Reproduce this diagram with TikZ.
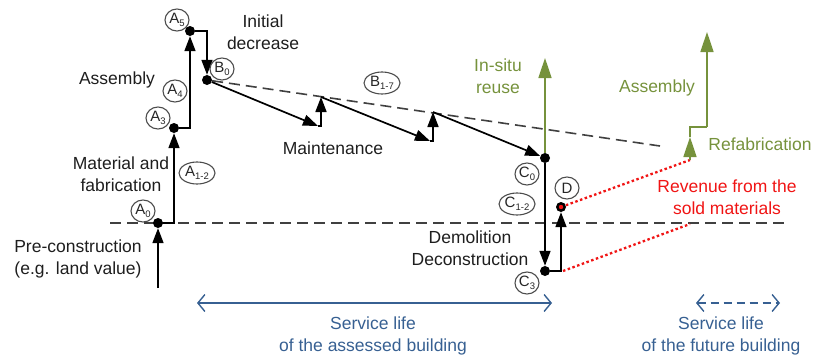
\documentclass[tikz,border=0pt]{standalone}
\usepackage{fontspec}
\setmainfont{Liberation Sans}
\usetikzlibrary{arrows.meta,shapes.geometric}
\definecolor{grn}{RGB}{118,146,60}
\definecolor{blu}{RGB}{55,96,146}
\definecolor{txt}{RGB}{30,30,30}
\definecolor{rd}{RGB}{240,20,20}
\newcommand{\lbtxt}[2]{#1\raisebox{-2.5pt}{\fontsize{9.5}{9.5}\selectfont #2}}
\begin{document}
\begin{tikzpicture}[x=1pt,y=-1pt,
  every node/.style={font=\fontsize{17.5}{21.5}\selectfont, text=txt},
  txtnode/.style={align=center, inner sep=0pt},
  dot/.style={circle, fill=black, inner sep=0pt, minimum size=10pt},
  lbl/.style={ellipse, draw=gray!60!black, line width=1.1pt, inner sep=0pt, minimum width=24pt, minimum height=22pt, font=\fontsize{15}{15}\selectfont, text=gray!30!black},
  lblw/.style={lbl, minimum width=36pt},
  ln/.style={line width=1.7pt, draw=black},
  arr/.style={ln, -{Triangle[length=15pt,width=11pt]}},
  garr/.style={line width=1.7pt, draw=grn, -{Triangle[length=20pt,width=13pt]}},
  gln/.style={line width=1.7pt, draw=grn},
  dashln/.style={line width=1.6pt, draw=black!75, dash pattern=on 11pt off 6pt},
  reddot/.style={line width=2.3pt, draw=rd, dash pattern=on 2.5pt off 2.5pt},
  barr/.style={line width=1.4pt, draw=blu, {Straight Barb[length=7pt,width=17pt]}-{Straight Barb[length=7pt,width=17pt]}},
]
\useasboundingbox (0,0) rectangle (816,359);

% baseline dashed
\coordinate (bl0) at (110,223);
\coordinate (bl1) at (790,223);
\draw[dashln] (bl0) -- (bl1);

% dots
\node[dot] (A0) at (158,223) {};
\node[dot] (A3) at (174,128) {};
\node[dot] (A5) at (190,31) {};
\node[dot] (B0) at (207,80) {};
\node[dot] (C0) at (545,158) {};
\node[dot] (C3) at (545,271) {};
\node[dot] (D) at (561,207) {};
\fill[rd] (D) circle (2.2pt);

% upper dashed line
\coordinate (de) at (660,146);
\draw[dashln] (B0) -- (de);

% coordinates
\coordinate (p0) at (158,288);
\coordinate (a12) at (174,223);
\coordinate (a4c) at (190,128);
\coordinate (a5c) at (207,31);
\coordinate (s1) at (318,126);
\coordinate (t1) at (321,97);
\coordinate (s2) at (430,141);
\coordinate (t2) at (433,112);
\coordinate (g0) at (545,58);
\coordinate (r1) at (690,160);
\coordinate (r1a) at (690,137);
\coordinate (r1b) at (690,127);
\coordinate (r1c) at (707,127);
\coordinate (g1) at (707,32);
\coordinate (r2a) at (563,271);
\coordinate (r2) at (690,224);

% green
\draw[garr] (C0) -- (g0);
\draw[reddot] (D) -- (r1);
\draw[reddot] (r2a) -- (r2);
\draw[garr] (r1) -- (r1a);
\draw[gln] (r1a) -- (r1b) -- (r1c);
\draw[garr] (r1c) -- (g1);

% black path
\draw[arr] (p0) -- (A0.south);
\draw[arr] (A0.east) -- (a12) -- (A3.south);
\draw[arr] (A3.east) -- (a4c) -- (A5.south);
\draw[arr] (A5.east) -- (a5c) -- (B0.north);
\draw[arr] (B0) -- (s1);
\draw[arr] (s1) -| (t1);
\draw[arr] (t1) -- (s2);
\draw[arr] (s2) -| (t2);
\draw[arr] (t2) -- (C0);
\draw[arr] (C0) -- (C3.north);
\draw[arr] (C3.east) -| (D.south);

% labels
\node[lbl] (LA5) at (177,20) {\lbtxt{A}{5}};
\node[lbl] (LA4) at (175,91) {\lbtxt{A}{4}};
\node[lbl] (LA3) at (158,118) {\lbtxt{A}{3}};
\node[lbl] (LB0) at (222,69) {\lbtxt{B}{0}};
\node[lblw] (LA12) at (197,173) {\lbtxt{A}{1-2}};
\node[lbl] (LA0) at (143,211) {\lbtxt{A}{0}};
\node[lblw] (LB17) at (382,83) {\lbtxt{B}{1-7}};
\node[lbl] (LC0) at (527,174) {\lbtxt{C}{0}};
\node[lblw] (LC12) at (517,204) {\lbtxt{C}{1-2}};
\node[lbl] (LC3) at (527,283) {\lbtxt{C}{3}};
\node[lbl] (LD) at (567,188) {D};

% texts
\node[txtnode] (tInit) at (263,32) {Initial\\decrease};
\node[txtnode] (tAss) at (117,80) {Assembly};
\node[txtnode] (tMat) at (121,174) {Material and\\fabrication};
\node[txtnode] (tPre) at (78,259) {Pre-construction\\(e.g. land value)};
\node[txtnode] (tMain) at (333,148) {Maintenance};
\node[txtnode] (tDem) at (470,248) {Demolition\\Deconstruction};
\node[txtnode, text=grn] (tIn) at (498,76) {In-situ\\reuse};
\node[txtnode, text=grn] (tAss2) at (657,88) {Assembly};
\node[txtnode, text=grn] (tRef) at (760,144) {Refabrication};
\node[txtnode, text=rd] (tRev) at (727,197) {Revenue from the\\sold materials};

% service life
\coordinate (sl0) at (197,303);
\coordinate (sl1) at (552,303);
\draw[barr] (sl0) -- (sl1);
\coordinate (sf0) at (696,303);
\coordinate (sf1) at (780,303);
\draw[barr, dash pattern=on 8pt off 5pt] (sf0) -- (sf1);
\node[txtnode, text=blu] (tS1) at (373,336) {Service life\\of the assessed building};
\node[txtnode, text=blu] (tS2) at (721,336) {Service life\\of the future building};
\end{tikzpicture}
\end{document}
